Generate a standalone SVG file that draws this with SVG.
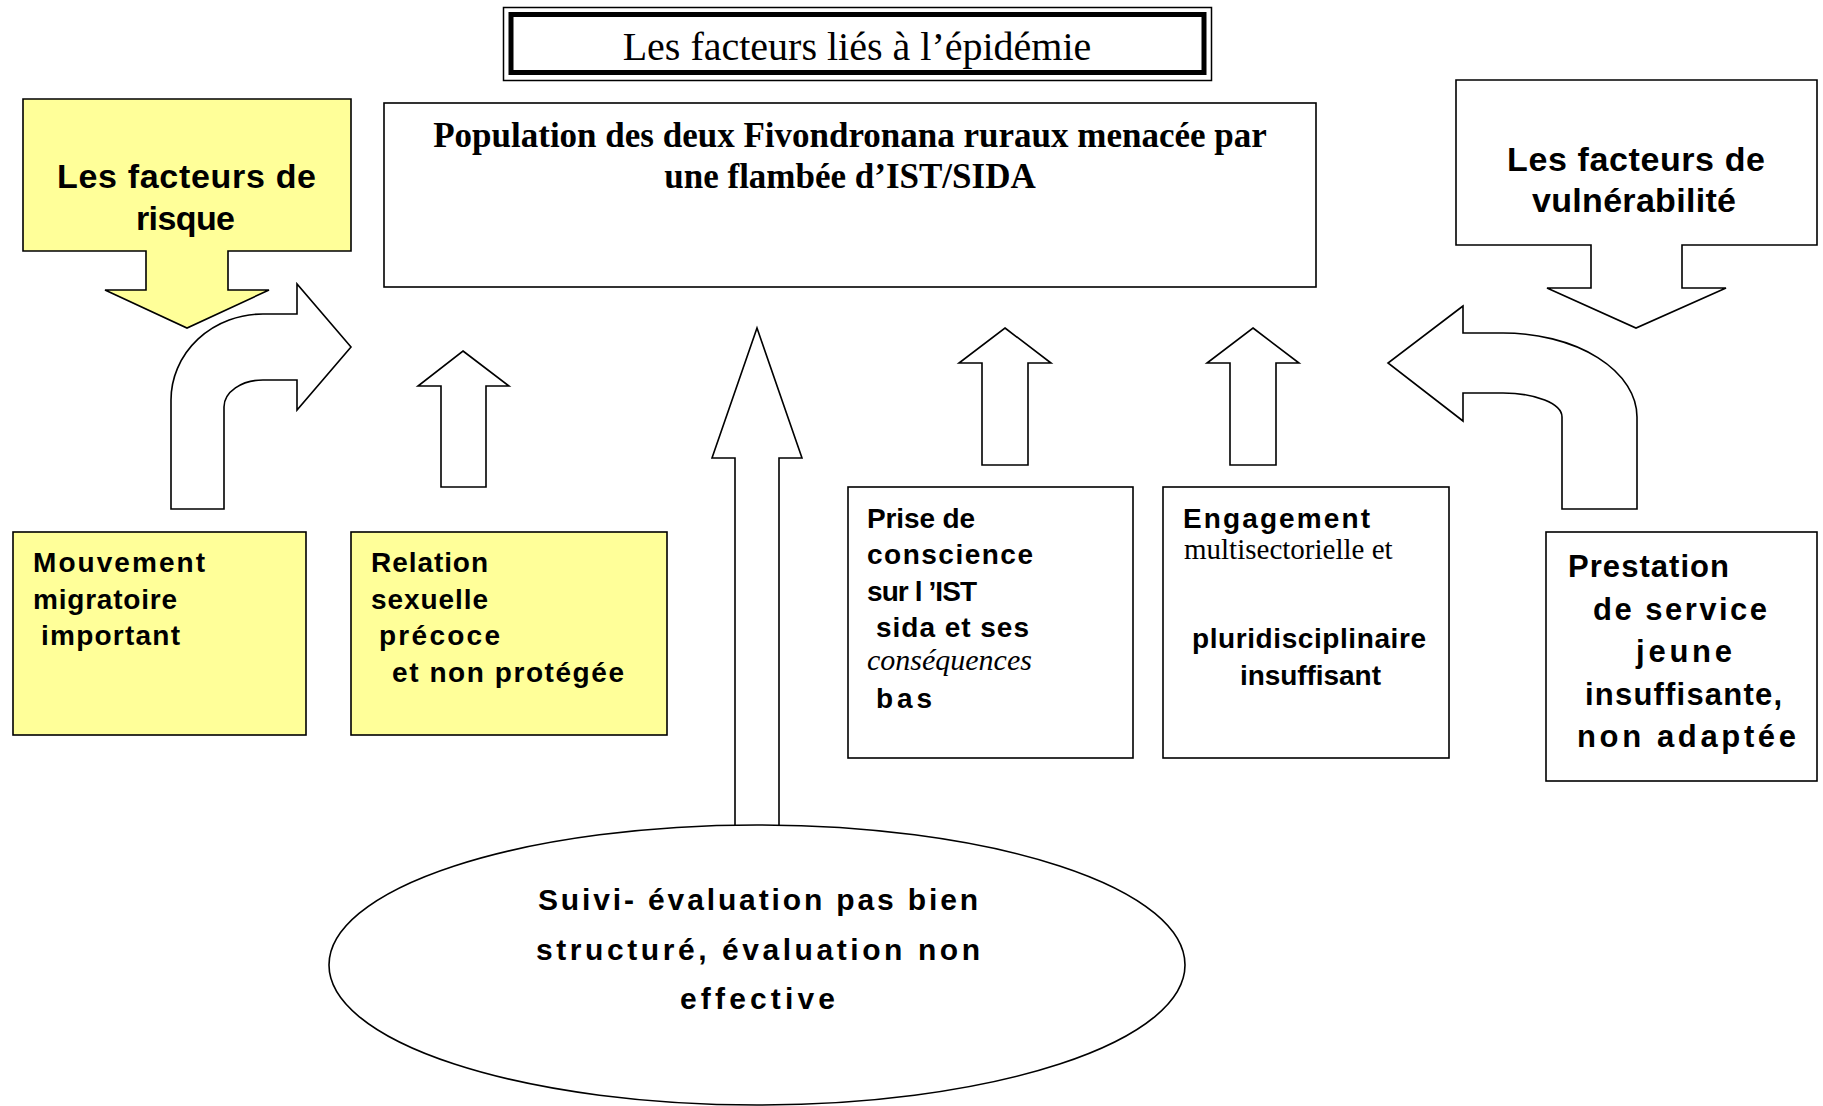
<svg xmlns="http://www.w3.org/2000/svg" width="1823" height="1106" viewBox="0 0 1823 1106">
<style>
.bg{fill:#ffffff}
.box{fill:#ffffff;stroke:#000;stroke-width:1.6}
.ybox{fill:#ffff99;stroke:#000;stroke-width:1.6}
.arr{fill:#ffffff;stroke:#000;stroke-width:1.6;stroke-linejoin:miter}
.sb{font-family:"Liberation Sans",Arial,sans-serif;font-weight:bold;fill:#000}
.s28{font-size:28px}
.s31{font-size:31px}
.s34{font-size:34px}
.s30{font-size:30px}
.tr{font-family:"Liberation Serif","Times New Roman",serif;fill:#000}
</style>
<rect class="bg" x="0" y="0" width="1823" height="1106"/>

<g id="connectors">
  <path id="arrow-migration" class="arr" d="M171,509 L171,400 A92,86 0 0 1 263,314 L297,314 L297,284 L351,347 L297,410 L297,380 L263,380 A39,27 0 0 0 224,407 L224,509 Z"/>
  <path id="arrow-relation" class="arr" d="M463,351 L509,386 L486,386 L486,487 L441,487 L441,386 L418,386 Z"/>
  <path id="arrow-suivi" class="arr" d="M757,328 L802,458 L779,458 L779,828 L735,828 L735,458 L712,458 Z"/>
  <path id="arrow-prise" class="arr" d="M1005,328 L1051,363 L1028,363 L1028,465 L982,465 L982,363 L959,363 Z"/>
  <path id="arrow-engagement" class="arr" d="M1253,328 L1299,363 L1276,363 L1276,465 L1230,465 L1230,363 L1207,363 Z"/>
  <path id="arrow-prestation" class="arr" d="M1463,306 L1388,363 L1463,421 L1463,393 L1503,393 A59,24 0 0 1 1562,417 L1562,509 L1637,509 L1637,417 A134,84 0 0 0 1503,333 L1463,333 Z"/>
</g>

<g id="title">
  <rect x="503.5" y="7.5" width="708" height="73" fill="#fff" stroke="#000" stroke-width="1.5"/>
  <rect x="511" y="14.5" width="693" height="58" fill="none" stroke="#000" stroke-width="5"/>
  <text class="tr" x="857" y="60" font-size="40" text-anchor="middle">Les facteurs liés à l’épidémie</text>
</g>

<g id="population">
  <rect class="box" x="384" y="103" width="932" height="184"/>
  <text class="tr" font-weight="bold" font-size="35" text-anchor="middle" x="850" y="147">Population des deux Fivondronana ruraux menacée par</text>
  <text class="tr" font-weight="bold" font-size="35" text-anchor="middle" x="850" y="188">une flambée d’IST/SIDA</text>
</g>

<g id="facteurs-risque">
  <path class="ybox" d="M23,99 L351,99 L351,251 L228,251 L228,290 L269,290 L187,328 L105,290 L146,290 L146,251 L23,251 Z"/>
  <text class="sb s34" x="57" y="188" textLength="259" lengthAdjust="spacing">Les facteurs de</text>
  <text class="sb s34" x="136" y="230" textLength="99" lengthAdjust="spacing">risque</text>
</g>

<g id="facteurs-vulnerabilite">
  <path class="box" d="M1456,80 L1817,80 L1817,245 L1682,245 L1682,288 L1726,288 L1636,328 L1547,288 L1591,288 L1591,245 L1456,245 Z"/>
  <text class="sb s34" x="1507" y="171" textLength="258" lengthAdjust="spacing">Les facteurs de</text>
  <text class="sb s34" x="1532" y="212" textLength="204" lengthAdjust="spacing">vulnérabilité</text>
</g>

<g id="mouvement">
  <rect class="ybox" x="13" y="532" width="293" height="203"/>
  <text class="sb s28" x="33" y="572" textLength="172" lengthAdjust="spacing">Mouvement</text>
  <text class="sb s28" x="33" y="609" textLength="144" lengthAdjust="spacing">migratoire</text>
  <text class="sb s28" x="41" y="645" textLength="139" lengthAdjust="spacing">important</text>
</g>

<g id="relation">
  <rect class="ybox" x="351" y="532" width="316" height="203"/>
  <text class="sb s28" x="371" y="572" textLength="117" lengthAdjust="spacing">Relation</text>
  <text class="sb s28" x="371" y="609" textLength="117" lengthAdjust="spacing">sexuelle</text>
  <text class="sb s28" x="379" y="645" textLength="121" lengthAdjust="spacing">précoce</text>
  <text class="sb s28" x="392" y="682" textLength="232" lengthAdjust="spacing">et non protégée</text>
</g>

<g id="prise-conscience">
  <rect class="box" x="848" y="487" width="285" height="271"/>
  <text class="sb s28" x="867" y="528" textLength="108" lengthAdjust="spacing">Prise de</text>
  <text class="sb s28" x="867" y="564" textLength="166" lengthAdjust="spacing">conscience</text>
  <text class="sb s28" x="867" y="601" textLength="110" lengthAdjust="spacing">sur l ’IST</text>
  <text class="sb s28" x="876" y="637" textLength="153" lengthAdjust="spacing">sida et ses</text>
  <text class="tr" font-style="italic" font-size="30" x="867" y="670">conséquences</text>
  <text class="sb s28" x="876" y="708" textLength="56" lengthAdjust="spacing">bas</text>
</g>

<g id="engagement">
  <rect class="box" x="1163" y="487" width="286" height="271"/>
  <text class="sb s28" x="1183" y="528" textLength="187" lengthAdjust="spacing">Engagement</text>
  <text class="tr" font-size="29" x="1184" y="559">multisectorielle et</text>
  <text class="sb s28" x="1192" y="648" textLength="234" lengthAdjust="spacing">pluridisciplinaire</text>
  <text class="sb s28" x="1240" y="685" textLength="141" lengthAdjust="spacing">insuffisant</text>
</g>

<g id="prestation">
  <rect class="box" x="1546" y="532" width="271" height="249"/>
  <text class="sb s31" x="1568" y="577" textLength="161" lengthAdjust="spacing">Prestation</text>
  <text class="sb s31" x="1593" y="620" textLength="174" lengthAdjust="spacing">de service</text>
  <text class="sb s31" x="1636" y="662" textLength="96" lengthAdjust="spacing">jeune</text>
  <text class="sb s31" x="1585" y="705" textLength="197" lengthAdjust="spacing">insuffisante,</text>
  <text class="sb s31" x="1577" y="747" textLength="219" lengthAdjust="spacing">non adaptée</text>
</g>

<g id="suivi-evaluation">
  <ellipse class="box" cx="757" cy="965" rx="428" ry="140"/>
  <text class="sb s30" x="538" y="910" textLength="440" lengthAdjust="spacing">Suivi- évaluation pas bien</text>
  <text class="sb s30" x="536" y="960" textLength="444" lengthAdjust="spacing">structuré, évaluation non</text>
  <text class="sb s30" x="680" y="1009" textLength="155" lengthAdjust="spacing">effective</text>
</g>
</svg>
